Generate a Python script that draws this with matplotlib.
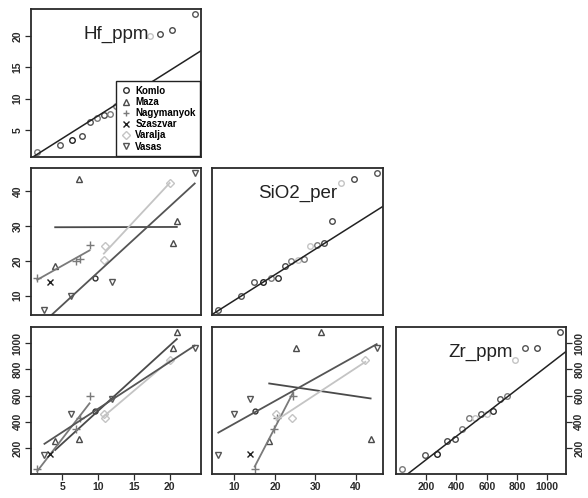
import matplotlib
matplotlib.use("Agg")
import matplotlib.pyplot as plt
from matplotlib.lines import Line2D
import numpy as np
from statistics import NormalDist

plt.rcParams['font.family'] = ['Liberation Sans', 'DejaVu Sans']

# samples (one entry per sample)
site = ["Komlo",
        "Maza", "Maza", "Maza", "Maza",
        "Nagymanyok", "Nagymanyok", "Nagymanyok", "Nagymanyok",
        "Szaszvar",
        "Varalja", "Varalja", "Varalja",
        "Vasas", "Vasas", "Vasas", "Vasas"]
hf_ppm = [9.5, 4.0, 7.3, 20.4, 21.0, 1.5, 6.9, 7.5, 8.8, 3.3, 10.8, 11.0, 20.0, 2.5, 6.2, 11.9, 23.5]
sio2_per = [15.2, 18.6, 43.7, 25.3, 31.4, 15.0, 19.9, 20.6, 24.5, 13.8, 20.4, 24.3, 42.4, 6.0, 9.8, 13.8, 45.2]
zr_ppm = [485, 250, 268, 965, 1082, 42, 345, 430, 600, 155, 462, 430, 868, 145, 462, 575, 960]

var_names = ["Hf_ppm", "SiO2_per", "Zr_ppm"]
var_ticks = [[5, 10, 15, 20], [10, 20, 30, 40], [200, 400, 600, 800, 1000]]

groups = ["Komlo", "Maza", "Nagymanyok", "Szaszvar", "Varalja", "Vasas"]
group_marker = {"Komlo": "o", "Maza": "^", "Nagymanyok": "+",
                "Szaszvar": "x", "Varalja": "D", "Vasas": "v"}
group_color = {"Komlo": "#303030", "Maza": "#4a4a4a", "Nagymanyok": "#7a7a7a",
               "Szaszvar": "#202020", "Varalja": "#c4c4c4", "Vasas": "#555555"}
group_msize = {"Komlo": 3.5, "Maza": 5, "Nagymanyok": 6,
               "Szaszvar": 5, "Varalja": 4, "Vasas": 5}

data = [np.array(hf_ppm), np.array(sio2_per), np.array(zr_ppm, dtype=float)]
site = np.array(site)

W, H = 588, 498
fig = plt.figure(figsize=(W / 100, H / 100), dpi=100)

col_x = [(31, 201), (212, 383), (396, 566)]
row_y = [(9, 157), (168, 315), (327, 474)]


def make_ax(r, c):
    x0, x1 = col_x[c]
    y0, y1 = row_y[r]
    return fig.add_axes([x0 / W, 1 - y1 / H, (x1 - x0) / W, (y1 - y0) / H])


def lims(v):
    lo, hi = v.min(), v.max()
    r = hi - lo
    return lo - 0.04 * r, hi + 0.04 * r


def style(ax):
    for s in ax.spines.values():
        s.set_linewidth(1.3)
        s.set_color("#2a2a2a")
    ax.tick_params(direction="out", length=4, width=0.9, labelsize=7.5,
                   pad=2, colors="#2a2a2a")
    ax.set_xticks([])
    ax.set_yticks([])


def set_yaxis(ax, k, right=False):
    ax.set_yticks(var_ticks[k])
    ax.set_yticklabels([str(t) for t in var_ticks[k]], rotation=90,
                       va="center", fontweight="bold")
    if right:
        ax.yaxis.tick_right()


def set_xaxis(ax, k):
    ax.set_xticks(var_ticks[k])
    ax.set_xticklabels([str(t) for t in var_ticks[k]], fontweight="bold")


nd = NormalDist()
n = len(site)

for r in range(3):
    for c in range(r + 1):
        ax = make_ax(r, c)
        style(ax)
        xv, yv = data[c], data[r]
        ax.set_xlim(*lims(xv))
        ax.set_ylim(*lims(yv))
        if r == c:
            # normal QQ plot scaled into the variable range
            order = np.argsort(yv)
            ys = yv[order]
            p = (np.arange(1, n + 1) - 0.5) / n
            z = np.array([nd.inv_cdf(q) for q in p])
            lo, hi = yv.min(), yv.max()
            zx = lo + (z - z.min()) / (z.max() - z.min()) * (hi - lo)
            for xi, yi, g in zip(zx, ys, site[order]):
                ax.plot(xi, yi, "o", mfc="none", mec=group_color[g], ms=4, mew=1.0)
            q1, q3 = np.percentile(yv, [25, 75])
            z1, z3 = nd.inv_cdf(0.25), nd.inv_cdf(0.75)
            slope = (q3 - q1) / (z3 - z1)
            xl = np.array(ax.get_xlim())
            zl = z.min() + (xl - lo) / (hi - lo) * (z.max() - z.min())
            ax.plot(xl, q1 + slope * (zl - z1), color="#222222", lw=1.1)
            ax.set_xlim(*lims(xv))
            ax.text(0.5, 0.83, var_names[r], transform=ax.transAxes,
                    ha="center", va="center", fontsize=13.5, color="#222222")
        else:
            for g in groups:
                m = site == g
                gx, gy = xv[m], yv[m]
                ax.plot(gx, gy, linestyle="none", marker=group_marker[g],
                        mfc="none", mec=group_color[g], ms=group_msize[g], mew=1.0)
                if m.sum() > 1:
                    b, a = np.polyfit(gx, gy, 1)
                    xr = np.array([gx.min(), gx.max()])
                    ax.plot(xr, a + b * xr, color=group_color[g], lw=1.3)
        if c == 0:
            set_yaxis(ax, r)
        if r == 2:
            set_xaxis(ax, c)
        if r == 2 and c == 2:
            set_yaxis(ax, r, right=True)
        if r == 0 and c == 0:
            handles = [Line2D([], [], linestyle="none", marker=group_marker[g],
                              mfc="none", mec=group_color[g], ms=4, mew=1.0)
                       for g in groups]
            leg = ax.legend(handles, groups, loc="lower right",
                            prop={"size": 7, "weight": "bold"},
                            frameon=True, fancybox=False, framealpha=1,
                            edgecolor="#222222", borderaxespad=0.1,
                            handlelength=1.0, handletextpad=0.5,
                            labelspacing=0.12, borderpad=0.45)
            leg.get_frame().set_linewidth(1.0)
            leg.set_zorder(5)

fig.savefig("out.png", dpi=100)
